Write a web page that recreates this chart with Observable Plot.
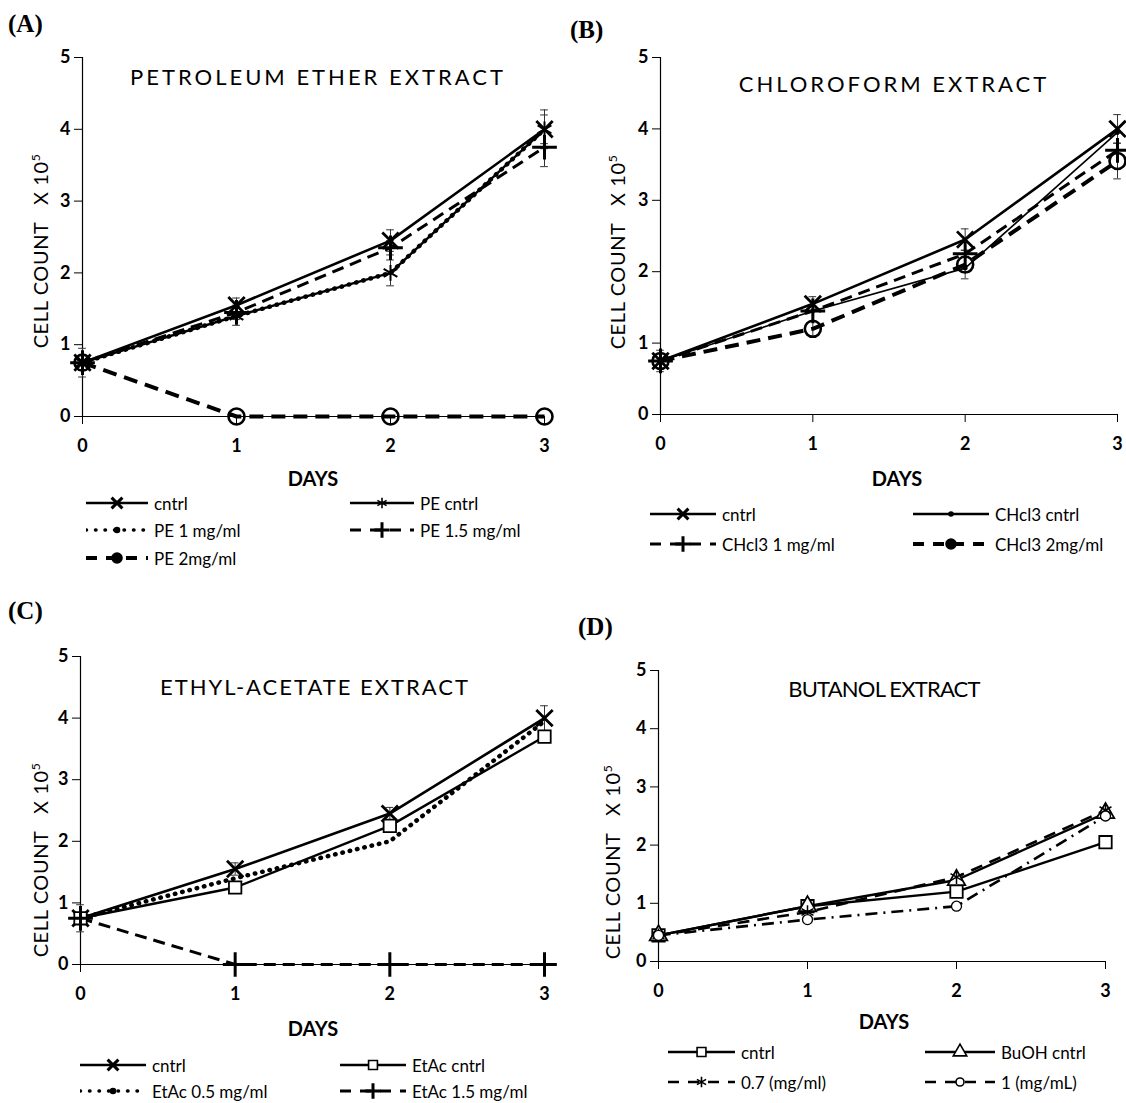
<!DOCTYPE html>
<html><head><meta charset="utf-8">
<script src="https://cdn.jsdelivr.net/npm/d3@7"></script>
<script src="https://cdn.jsdelivr.net/npm/@observablehq/plot@0.6"></script>
<style>
body{margin:0;background:#fff;}
#root{position:relative;width:1126px;height:1103px;overflow:hidden;background:#fff;font-family:Lato,"Open Sans",sans-serif;color:#000;}
.abs{position:absolute;}
.plabel{font-family:"Liberation Serif","DejaVu Serif",serif;font-weight:bold;font-size:25px;transform:translate(0,-50%);}
.title{font-size:22px;white-space:nowrap;transform:translate(-50%,-50%);}
.ylab{font-size:20px;letter-spacing:0.6px;white-space:nowrap;transform:translate(-50%,-50%) rotate(-90deg);}
.days{font-weight:bold;font-size:20px;transform:translate(-50%,-50%);}
.leg{font-size:17px;white-space:nowrap;display:flex;align-items:center;height:24px;}
.leg span{margin-left:6px;}
</style></head><body><div id="root"></div><script>
// ---------- data ----------
const days = [0, 1, 2, 3];

// (A) Petroleum ether
const A_names = ["cntrl", "PE cntrl", "PE 1 mg/ml", "PE 1.5 mg/ml", "PE 2mg/ml"];
const A_cntrl = [0.75, 1.55, 2.45, 4.0];
const A_peCntrl = [0.75, 1.40, 2.00, 4.0];
const A_pe1 = [0.75, 1.40, 2.00, 4.0];
const A_pe15 = [0.75, 1.45, 2.35, 3.75];
const A_pe2 = [0.75, 0, 0, 0];
const A_errCntrl = [0.2, 0.1, 0.15, 0.27];
const A_errPeCntrl = [0.1, 0.13, 0.18, 0.2];
const A_errPe15 = [0.1, 0.1, 0.1, 0.27];

// (B) Chloroform
const B_names = ["cntrl", "CHcl3 cntrl", "CHcl3 1 mg/ml", "CHcl3 2mg/ml"];
const B_cntrl = [0.75, 1.55, 2.45, 4.0];
const B_chCntrl = [0.75, 1.45, 2.05, 3.95];
const B_ch1 = [0.75, 1.45, 2.25, 3.70];
const B_ch2 = [0.75, 1.20, 2.10, 3.55];
const B_errCntrl = [0.15, 0.1, 0.15, 0.2];
const B_errCh2 = [0.1, 0.1, 0.2, 0.25];

// (C) Ethyl acetate
const C_names = ["cntrl", "EtAc cntrl", "EtAc 0.5 mg/ml", "EtAc 1.5 mg/ml"];
const C_cntrl = [0.75, 1.55, 2.45, 4.0];
const C_etCntrl = [0.75, 1.25, 2.25, 3.70];
const C_et05 = [0.75, 1.40, 2.00, 3.95];
const C_et15 = [0.75, 0, 0, 0];
const C_errCntrl = [0.22, 0.1, 0.1, 0.2];

// (D) Butanol
const D_names = ["cntrl", "BuOH cntrl", "0.7 (mg/ml)", "1  (mg/mL)"];
const D_cntrl = [0.45, 0.95, 1.20, 2.05];
const D_buCntrl = [0.45, 0.95, 1.40, 2.55];
const D_07 = [0.45, 0.85, 1.45, 2.60];
const D_1 = [0.45, 0.72, 0.95, 2.50];
const D_errCntrl = [0.05, 0.08, 0.1, 0.1];

const yTicks = [0, 1, 2, 3, 4, 5];

// ---------- styles ----------
const S = {
  solidX:   {w: 2.6, dash: null, sym: "times", r: 7.5, sw: 2.8, fill: "none", lsym: d3.symbolTimes, lfill: "none"},
  solidAst: {w: 2.4, dash: null, sym: "asterisk", r: 7.5, sw: 2, fill: "none", lsym: d3.symbolAsterisk, lfill: "none"},
  dotted:   {w: 4.5, dash: "0.5,7", cap: "round", sym: null, lsym: d3.symbolCircle, lfill: "black", lr: 2.5},
  dashPlus: {w: 3, dash: "12,7", sym: "plus", r: 8, sw: 3, fill: "none", lsym: d3.symbolPlus, lfill: "none"},
  thickCirc:{w: 4, dash: "14,8", sym: "circle", r: 8, sw: 2.6, fill: "none", lsym: d3.symbolCircle, lfill: "black"},
  thinDot:  {w: 1.6, dash: null, sym: "circle", r: 2, sw: 1, fill: "black", lsym: d3.symbolCircle, lfill: "black", lr: 2},
  solidSq:  {w: 2.4, dash: null, sym: "square", r: 7, sw: 1.8, fill: "white", lsym: d3.symbolSquare, lfill: "white"},
  solidTri: {w: 2.4, dash: null, sym: "triangle", r: 6.5, sw: 1.8, fill: "white", lsym: d3.symbolTriangle, lfill: "white"},
  dashAst:  {w: 2.6, dash: "12,8", sym: "asterisk", r: 6.5, sw: 1.5, fill: "none", lsym: d3.symbolAsterisk, lfill: "none"},
  dashDotC: {w: 2.6, dash: "12,6,2,6", sym: "circle", r: 5, sw: 1.3, fill: "white", lsym: d3.symbolCircle, lfill: "white", lr: 4}
};

const panels = [
  {left: 0, top: 0, width: 560, height: 490, mL: 82, mR: 16, mT: 57, mB: 74,
   names: A_names, values: [A_cntrl, A_peCntrl, A_pe1, A_pe15, A_pe2],
   errs: [A_errCntrl, A_errPeCntrl, null, A_errPe15, null],
   styles: [S.solidX, S.solidAst, S.dotted, S.dashPlus, S.thickCirc],
   label: "(A)", labelPos: [8, 24], title: "PETROLEUM ETHER EXTRACT", titlePos: [318, 76], titleLS: 3,
   ylabPos: [40, 251], daysPos: [313, 478],
   legend: [[86, 503, 62], [350, 503, 64], [86, 530, 62], [350, 530, 64], [86, 558, 62]]},
  {left: 560, top: 0, width: 566, height: 490, mL: 100, mR: 9, mT: 57, mB: 76,
   names: B_names, values: [B_cntrl, B_chCntrl, B_ch1, B_ch2],
   errs: [B_errCntrl, null, null, B_errCh2],
   styles: [S.solidX, S.thinDot, S.dashPlus, S.thickCirc],
   label: "(B)", labelPos: [570, 30], title: "CHLOROFORM EXTRACT", titlePos: [894, 83], titleLS: 3,
   ylabPos: [617, 252], daysPos: [897, 478],
   legend: [[650, 514, 66], [913, 514, 76], [650, 544, 66], [913, 544, 76]]},
  {left: 0, top: 590, width: 560, height: 448, mL: 80, mR: 16, mT: 66, mB: 74,
   names: C_names, values: [C_cntrl, C_etCntrl, C_et05, C_et15],
   errs: [C_errCntrl, null, null, null],
   styles: [S.solidX, S.solidSq, S.dotted, S.dashPlus],
   label: "(C)", labelPos: [8, 611], title: "ETHYL-ACETATE EXTRACT", titlePos: [315, 686], titleLS: 2,
   ylabPos: [40, 860], daysPos: [313, 1028],
   legend: [[80, 1065, 66], [340, 1065, 66], [80, 1091, 66], [340, 1091, 66]]},
  {left: 560, top: 590, width: 566, height: 445, mL: 98, mR: 21, mT: 80, mB: 74,
   names: D_names, values: [D_cntrl, D_buCntrl, D_07, D_1],
   errs: [D_errCntrl, null, null, null],
   styles: [S.solidSq, S.solidTri, S.dashAst, S.dashDotC],
   label: "(D)", labelPos: [578, 627], title: "BUTANOL EXTRACT", titlePos: [884, 688], titleLS: -0.8,
   ylabPos: [612, 862], daysPos: [884, 1021],
   legend: [[668, 1052, 67], [925, 1052, 70], [668, 1082, 67], [925, 1082, 70]]}
];

const root = document.getElementById("root");
function addDiv(cls, x, y, html, extra) {
  const d = document.createElement("div");
  d.className = "abs " + cls;
  d.style.left = x + "px"; d.style.top = y + "px";
  d.innerHTML = html;
  if (extra) Object.assign(d.style, extra);
  root.appendChild(d);
  return d;
}

panels.forEach(p => {
  const rows = p.names.flatMap((n, i) => days.map((d, j) => ({s: n, i, day: d, v: p.values[i][j],
    err: p.errs[i] ? p.errs[i][j] : null})));
  const errRows = rows.filter(r => r.err != null);
  const marks = [
    Plot.ruleY([0], {stroke: "black", strokeWidth: 1.2}),
    Plot.ruleX([0], {stroke: "black", strokeWidth: 1.2}),
    Plot.axisY({ticks: yTicks, tickFormat: d3.format("d"), tickSize: 8, tickPadding: 4, label: null, fontWeight: "bold", fontSize: 18, stroke: "black"}),
    Plot.axisX({ticks: days, tickFormat: d3.format("d"), tickSize: 8, tickPadding: 15, label: null, fontWeight: "bold", fontSize: 18, stroke: "black"}),
    Plot.ruleX(errRows, {x: "day", y1: d => d.v - d.err, y2: d => d.v + d.err, stroke: "#333", strokeWidth: 1}),
    Plot.ruleY(errRows, {y: d => d.v + d.err, x1: d => d.day - 0.025, x2: d => d.day + 0.025, stroke: "#333", strokeWidth: 1}),
    Plot.ruleY(errRows, {y: d => d.v - d.err, x1: d => d.day - 0.025, x2: d => d.day + 0.025, stroke: "#333", strokeWidth: 1})
  ];
  p.names.forEach((n, i) => {
    const st = p.styles[i];
    const sd = rows.filter(r => r.i === i);
    marks.push(Plot.line(sd, {x: "day", y: "v", stroke: "black", strokeWidth: st.w,
      strokeDasharray: st.dash || undefined, strokeLinecap: st.cap || "butt"}));
  });
  p.names.forEach((n, i) => {
    const st = p.styles[i];
    if (!st.sym) return;
    const sd = rows.filter(r => r.i === i);
    marks.push(Plot.dot(sd, {x: "day", y: "v", symbol: () => st.sym, r: st.r, stroke: "black",
      strokeWidth: st.sw, fill: st.fill}));
  });
  const svg = Plot.plot({
    width: p.width, height: p.height,
    marginLeft: p.mL, marginRight: p.mR, marginTop: p.mT, marginBottom: p.mB,
    x: {domain: [0, 3]}, y: {domain: [0, 5]},
    symbol: {type: "identity"},
    style: {fontFamily: "Lato, 'Open Sans', sans-serif", fontSize: "18px", color: "black", background: "transparent", overflow: "visible"},
    marks
  });
  const wrap = addDiv("", p.left, p.top, "");
  wrap.appendChild(svg);

  addDiv("plabel", p.labelPos[0], p.labelPos[1], p.label);
  addDiv("title", p.titlePos[0], p.titlePos[1], p.title, {letterSpacing: p.titleLS + "px"});
  addDiv("ylab", p.ylabPos[0], p.ylabPos[1], "CELL COUNT&nbsp;&nbsp; X 10<sup style='font-size:12px'>5</sup>");
  addDiv("days", p.daysPos[0], p.daysPos[1], "DAYS");

  // legend
  p.names.forEach((n, i) => {
    const st = p.styles[i];
    const [lx, ly, w] = p.legend[i];
    const div = addDiv("leg", lx, ly - 12, "");
    const s = d3.create("svg").attr("width", w).attr("height", 24);
    s.append("line").attr("x1", 0).attr("x2", w).attr("y1", 12).attr("y2", 12)
      .attr("stroke", "black").attr("stroke-width", st.cap ? 3.5 : Math.max(st.w, 2.6))
      .attr("stroke-dasharray", st.dash ? (st.cap ? "0.5,9" : "11,9") : null)
      .attr("stroke-linecap", st.cap || "butt");
    const r = st.lr || 5;
    s.append("path").attr("transform", `translate(${w / 2},12)`)
      .attr("d", d3.symbol(st.lsym, Math.PI * r * r)())
      .attr("stroke", "black").attr("stroke-width", st.lsym === d3.symbolTimes || st.lsym === d3.symbolPlus ? 3 : 1.6)
      .attr("fill", st.lfill);
    div.appendChild(s.node());
    const sp = document.createElement("span");
    sp.textContent = n;
    div.appendChild(sp);
  });
});
</script></body></html>
